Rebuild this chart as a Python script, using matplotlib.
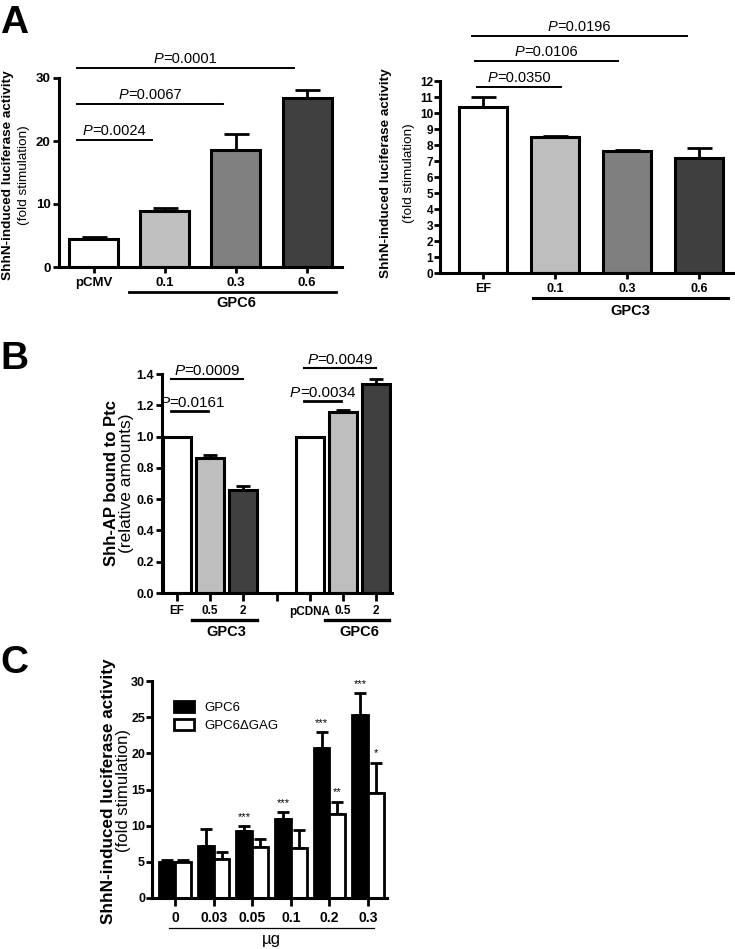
import matplotlib
matplotlib.use("Agg")
import matplotlib.pyplot as plt
import numpy as np
from matplotlib.offsetbox import TextArea, HPacker, AnnotationBbox

# ---------------- data ----------------
a1_labels = ["pCMV", "0.1", "0.3", "0.6"]
a1_values = [4.4, 8.9, 18.5, 26.8]
a1_err = [0.4, 0.5, 2.6, 1.3]
a1_colors = ["#ffffff", "#c0c0c0", "#808080", "#404040"]
a1_yticks = [0, 10, 20, 30]
a1_pvals = ["0.0024", "0.0067", "0.0001"]
a1_plevels = [20.1, 25.9, 31.6]
a1_pto = [1, 2, 3]

a2_labels = ["EF", "0.1", "0.3", "0.6"]
a2_values = [10.4, 8.5, 7.6, 7.2]
a2_err = [0.6, 0.05, 0.1, 0.6]
a2_colors = ["#ffffff", "#bebebe", "#7f7f7f", "#3f3f3f"]
a2_yticks = list(range(0, 13))
a2_pvals = ["0.0350", "0.0106", "0.0196"]
a2_plevels = [11.6, 13.25, 14.8]
a2_pto = [1, 2, 3]

b_labels = ["EF", "0.5", "2", "", "pCDNA", "0.5", "2"]
b_values = [1.0, 0.865, 0.66, None, 1.0, 1.155, 1.335]
b_err = [0.0, 0.02, 0.025, None, 0.0, 0.015, 0.035]
b_colors = ["#ffffff", "#bebebe", "#404040", None, "#ffffff", "#bebebe", "#404040"]
b_yticks = [0.0, 0.2, 0.4, 0.6, 0.8, 1.0, 1.2, 1.4]
b_pvals = ["0.0161", "0.0009", "0.0034", "0.0049"]
b_plevels = [1.165, 1.37, 1.23, 1.44]
b_pfrom = [0, 0, 4, 4]
b_pto = [1, 2, 5, 6]

c_labels = ["0", "0.03", "0.05", "0.1", "0.2", "0.3"]
c_gpc6 = [5.0, 7.2, 9.3, 10.9, 20.7, 25.3]
c_gpc6_err = [0.3, 2.4, 0.65, 1.0, 2.2, 3.0]
c_dgag = [5.0, 5.4, 7.05, 6.95, 11.6, 14.55]
c_dgag_err = [0.3, 1.0, 1.05, 2.45, 1.7, 4.15]
c_gpc6_stars = ["", "", "***", "***", "***", "***"]
c_dgag_stars = ["", "", "", "", "**", "*"]
c_yticks = [0, 5, 10, 15, 20, 25, 30]

W, H = 735, 949
fig = plt.figure(figsize=(W / 100, H / 100), dpi=100)

REG = ["Liberation Sans", "DejaVu Sans"]


def rect(l, t, r, b):
    return [l / W, 1 - b / H, (r - l) / W, (b - t) / H]


def ftext(x, y, s, **kw):
    fig.text(x / W, 1 - y / H, s, **kw)


def style_axes(ax, ysize, xsize, xtick_len=4, ypad=2):
    for s in ["top", "right"]:
        ax.spines[s].set_visible(False)
    for s in ["left", "bottom"]:
        ax.spines[s].set_linewidth(2.2)
    ax.tick_params(axis="y", direction="out", length=4, width=2, pad=ypad)
    ax.tick_params(axis="x", direction="out", length=xtick_len, width=2, pad=3)
    for lab in ax.get_yticklabels():
        lab.set_family(REG)
        lab.set_fontweight("bold")
        lab.set_fontsize(ysize)
    for lab in ax.get_xticklabels():
        lab.set_family(REG)
        lab.set_fontweight("bold")
        lab.set_fontsize(xsize)


def ylabel2(x1, x2, yc, l1, l2, s1, s2):
    ftext(x1, yc, l1, rotation=90, ha="center", va="center", family=REG, fontweight="bold", fontsize=s1)
    ftext(x2, yc, l2, rotation=90, ha="center", va="center", family=REG, fontsize=s2)


def ptext(ax, xc, y, p, fs, yoff=2):
    ta1 = TextArea("P", textprops=dict(family=REG, style="italic", fontsize=fs))
    ta2 = TextArea("=" + p, textprops=dict(family=REG, fontsize=fs))
    box = HPacker(children=[ta1, ta2], align="baseline", pad=0, sep=0)
    ab = AnnotationBbox(box, (xc, y), xybox=(0, yoff), xycoords="data",
                        boxcoords="offset points", box_alignment=(0.5, 0.0),
                        frameon=False, annotation_clip=False, pad=0)
    ax.add_artist(ab)


# ---------------- Panel A left ----------------
ax = fig.add_axes(rect(59, 78, 342, 267))
x = np.arange(len(a1_labels))
ax.bar(x, a1_values, width=0.69, color=a1_colors, edgecolor="black", linewidth=2.2, zorder=2)
ax.errorbar(x, a1_values, yerr=[np.zeros(len(x)), a1_err], fmt="none", ecolor="black",
            elinewidth=2, capsize=9, capthick=2, zorder=1)
ax.set_xlim(-0.485, 3.49)
ax.set_ylim(0, 30)
ax.set_yticks(a1_yticks)
ax.set_xticks(x)
ax.set_xticklabels(a1_labels)
style_axes(ax, 9.5, 9.5)
for lvl, to, p in zip(a1_plevels, a1_pto, a1_pvals):
    x0, x1 = x[0] - 0.23, x[to] - 0.18
    ax.plot([x0, x1], [lvl, lvl], color="black", lw=1.4, clip_on=False)
    ptext(ax, (x0 + x1) / 2, lvl, p, 10.5, yoff=1.5)
ax.plot([x[1] - 0.5, x[3] + 0.4], [-0.132, -0.132], transform=ax.get_xaxis_transform(),
        color="black", lw=2, clip_on=False)
ax.text((x[1] + x[3]) / 2, -0.19, "GPC6", transform=ax.get_xaxis_transform(), ha="center",
        va="center", family=REG, fontweight="bold", fontsize=10.5)
ylabel2(8, 24, 175, "ShhN-induced luciferase activity", "(fold stimulation)", 9.7, 9.7)

# ---------------- Panel A right ----------------
ax = fig.add_axes(rect(440, 81, 733, 273))
x = np.arange(len(a2_labels))
ax.bar(x, a2_values, width=0.67, color=a2_colors, edgecolor="black", linewidth=2.2, zorder=2)
ax.errorbar(x, a2_values, yerr=[np.zeros(len(x)), a2_err], fmt="none", ecolor="black",
            elinewidth=2, capsize=9, capthick=2, zorder=1)
ax.set_xlim(-0.597, 3.47)
ax.set_ylim(0, 12)
ax.set_yticks(a2_yticks)
ax.set_xticks(x)
ax.set_xticklabels(a2_labels)
style_axes(ax, 8.5, 9, ypad=1)
starts = [-0.08, -0.11, -0.15]
for lvl, to, p, s0 in zip(a2_plevels, a2_pto, a2_pvals, starts):
    x0 = x[0] + s0
    x1 = x[1] + 0.08 if to == 1 else (x[2] - 0.13 if to == 2 else x[3] - 0.17)
    ax.plot([x0, x1], [lvl, lvl], color="black", lw=1.4, clip_on=False)
    ptext(ax, (x0 + x1) / 2, lvl, p, 10.5, yoff=1.5)
ax.plot([x[1] - 0.3, x[3] + 0.4], [-0.13, -0.13], transform=ax.get_xaxis_transform(),
        color="black", lw=2.2, clip_on=False)
ax.text((x[1] + x[3]) / 2 + 0.05, -0.197, "GPC3", transform=ax.get_xaxis_transform(), ha="center",
        va="center", family=REG, fontweight="bold", fontsize=10.5)
ylabel2(386, 409, 173, "ShhN-induced luciferase activity", "(fold stimulation)", 9.7, 9.7)

# ---------------- Panel B ----------------
ax = fig.add_axes(rect(162, 374, 392, 593))
xb = np.arange(len(b_labels))
idx = [i for i, v in enumerate(b_values) if v is not None]
ax.bar([xb[i] for i in idx], [b_values[i] for i in idx], width=0.84,
       color=[b_colors[i] for i in idx], edgecolor="black", linewidth=2.2, zorder=2)
ax.errorbar([xb[i] for i in idx], [b_values[i] for i in idx],
            yerr=[np.zeros(len(idx)), [b_err[i] for i in idx]], fmt="none", ecolor="black",
            elinewidth=2, capsize=5, capthick=2, zorder=1)
ax.set_xlim(-0.45, 6.48)
ax.set_ylim(0, 1.4)
ax.set_yticks(b_yticks)
ax.set_yticklabels([f"{v:.1f}" for v in b_yticks])
ax.set_xticks(xb)
ax.set_xticklabels(b_labels)
style_axes(ax, 9, 8.5, xtick_len=6)
for lvl, f, to, p in zip(b_plevels, b_pfrom, b_pto, b_pvals):
    x0 = xb[f] - 0.18
    short = to in (1, 5)
    x1 = xb[to] - 0.05 if short else xb[to] + 0.0
    ax.plot([x0, x1], [lvl, lvl], color="black", lw=2 if short else 1.5, clip_on=False)
    ptext(ax, (x0 + x1) / 2 + (0.08 if to == 1 else 0), lvl, p, 11, yoff=0.5)
for g0, g1, name in [(1, 2, "GPC3"), (5, 6, "GPC6")]:
    ax.plot([xb[g0] - 0.55, xb[g1] + 0.4], [-0.123, -0.123], transform=ax.get_xaxis_transform(),
            color="black", lw=2.4, clip_on=False)
    ax.text((xb[g0] + xb[g1]) / 2, -0.18, name, transform=ax.get_xaxis_transform(), ha="center",
            va="center", family=REG, fontweight="bold", fontsize=10.5)
ylabel2(111, 127, 483, "Shh-AP bound to Ptc", "(relative amounts)", 12, 12.5)

# ---------------- Panel C ----------------
ax = fig.add_axes(rect(152, 681, 387, 898))
xc = np.arange(len(c_labels))
bw = 0.41
ax.bar(xc - bw / 2, c_gpc6, width=bw, color="black", edgecolor="black", linewidth=2, zorder=2,
       label="GPC6")
ax.bar(xc + bw / 2, c_dgag, width=bw, color="white", edgecolor="black", linewidth=2, zorder=2,
       label="GPC6ΔGAG")
ax.errorbar(xc - bw / 2, c_gpc6, yerr=[np.zeros(len(xc)), c_gpc6_err], fmt="none", ecolor="black",
            elinewidth=2, capsize=4, capthick=2, zorder=1)
ax.errorbar(xc + bw / 2, c_dgag, yerr=[np.zeros(len(xc)), c_dgag_err], fmt="none", ecolor="black",
            elinewidth=2, capsize=4, capthick=2, zorder=1)
for i in range(len(xc)):
    if c_gpc6_stars[i]:
        ax.text(xc[i] - bw / 2, c_gpc6[i] + c_gpc6_err[i] + 0.6, c_gpc6_stars[i], ha="center",
                va="bottom", family=REG, fontsize=8)
    if c_dgag_stars[i]:
        ax.text(xc[i] + bw / 2, c_dgag[i] + c_dgag_err[i] + 0.6, c_dgag_stars[i], ha="center",
                va="bottom", family=REG, fontsize=8)
ax.set_xlim(-0.596, 5.49)
ax.set_ylim(0, 30)
ax.set_yticks(c_yticks)
ax.set_xticks(xc)
ax.set_xticklabels(c_labels)
style_axes(ax, 9, 10, xtick_len=6, ypad=1)
leg = ax.legend(loc="upper left", bbox_to_anchor=(0.07, 0.93), frameon=False,
                prop=dict(family=REG, size=9.5), handlelength=1.5, handleheight=0.9,
                handletextpad=0.8, labelspacing=0.35, borderaxespad=0)
ax.plot([xc[0] - 0.15, xc[-1] + 0.15], [-0.14, -0.14], transform=ax.get_xaxis_transform(),
        color="black", lw=0.9, clip_on=False)
ax.text((xc[0] + xc[-1]) / 2, -0.19, "µg", transform=ax.get_xaxis_transform(), ha="center",
        va="center", family=REG, fontsize=12)
ylabel2(109, 124, 791, "ShhN-induced luciferase activity", "(fold stimulation)", 12.3, 12)

# ---------------- panel letters ----------------
ftext(0, 33, "A", family=REG, fontweight="bold", fontsize=28, va="baseline")
ftext(0, 369, "B", family=REG, fontweight="bold", fontsize=28, va="baseline")
ftext(0, 673, "C", family=REG, fontweight="bold", fontsize=28, va="baseline")

fig.savefig("out.png", dpi=100)
